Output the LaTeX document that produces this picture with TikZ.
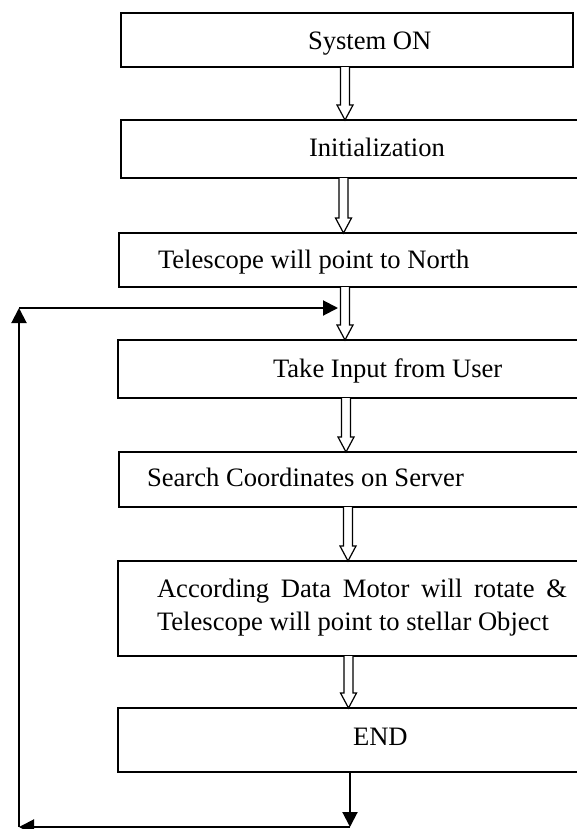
\documentclass[tikz,border=0pt]{standalone}
\usepackage{fontspec}
\setmainfont{Liberation Serif}
\usetikzlibrary{arrows.meta,calc}
\tikzset{
  box/.style={draw, line width=1.2bp, inner sep=0pt, outer sep=0pt, anchor=north west},
  lbl/.style={inner sep=0pt, outer sep=0pt, anchor=base west, font=\fontsize{26.6bp}{33bp}\selectfont},
  hollow/.style={draw, line width=1.2bp, fill=white, line join=miter},
  flow/.style={line width=2bp, -{Triangle[length=15bp,width=15bp]}},
}
\newcommand{\hollowarrow}[3]{%
  \draw[hollow] let \p1=(#2), \p2=(#3) in
    (#1bp-4.5bp,\y1) -- (#1bp-4.5bp,\y2+15bp) -- (#1bp-8bp,\y2+15bp) -- (#1bp,\y2)
    -- (#1bp+8bp,\y2+15bp) -- (#1bp+4.5bp,\y2+15bp) -- (#1bp+4.5bp,\y1);}
\begin{document}
\begin{tikzpicture}[x=1bp,y=-1bp]
\path[use as bounding box] (0,0) rectangle (577,829);
\clip (0,0) rectangle (577,829);
\fill[white] (0,0) rectangle (577,829);

% boxes
\node[box, line width=1.6bp, minimum width=452bp, minimum height=54bp] (b1) at (121,13) {};
\node[box, minimum width=500bp, minimum height=58bp] (b2) at (121,120) {};
\node[box, minimum width=500bp, minimum height=54bp] (b3) at (119,233) {};
\node[box, minimum width=500bp, minimum height=58bp] (b4) at (118,340) {};
\node[box, minimum width=500bp, minimum height=55bp] (b5) at (119,452) {};
\node[box, minimum width=500bp, minimum height=95bp] (b6) at (118,561) {};
\node[box, minimum width=500bp, minimum height=64bp] (b7) at (118,708) {};

% texts
\node[lbl] (t1) at (308,49) {System ON};
\node[lbl] (t2) at (309,156) {Initialization};
\node[lbl] (t3) at (158,268) {Telescope will point to North};
\node[lbl] (t4) at (273,377) {Take Input from User};
\node[lbl] (t5) at (147,486) {Search Coordinates on Server};
\node[lbl] (t6a) at (157,597) {\makebox[410bp][s]{According Data Motor will rotate \&}};
\node[lbl] (t6b) at (157,630) {Telescope will point to stellar Object};
\node[lbl] (t7) at (353,745) {END};

% hollow block arrows
\hollowarrow{345}{b1.south}{b2.north}
\hollowarrow{343.5}{b2.south}{b3.north}
\hollowarrow{345}{b3.south}{b4.north}
\hollowarrow{346}{b4.south}{b5.north}
\hollowarrow{348}{b5.south}{b6.north}
\hollowarrow{348.5}{b6.south}{b7.north}

% feedback loop
\coordinate (c1) at (350,827);
\coordinate (c2) at (19,827);
\coordinate (c3) at (19,308);
\coordinate (c4) at (338,308);
\draw[flow] (b7.south -| c1) -- (c1);
\draw[flow] (c1) -- (c2);
\draw[flow] (c2) -- (c3);
\draw[flow] (c3) -- (c4);
\end{tikzpicture}
\end{document}
